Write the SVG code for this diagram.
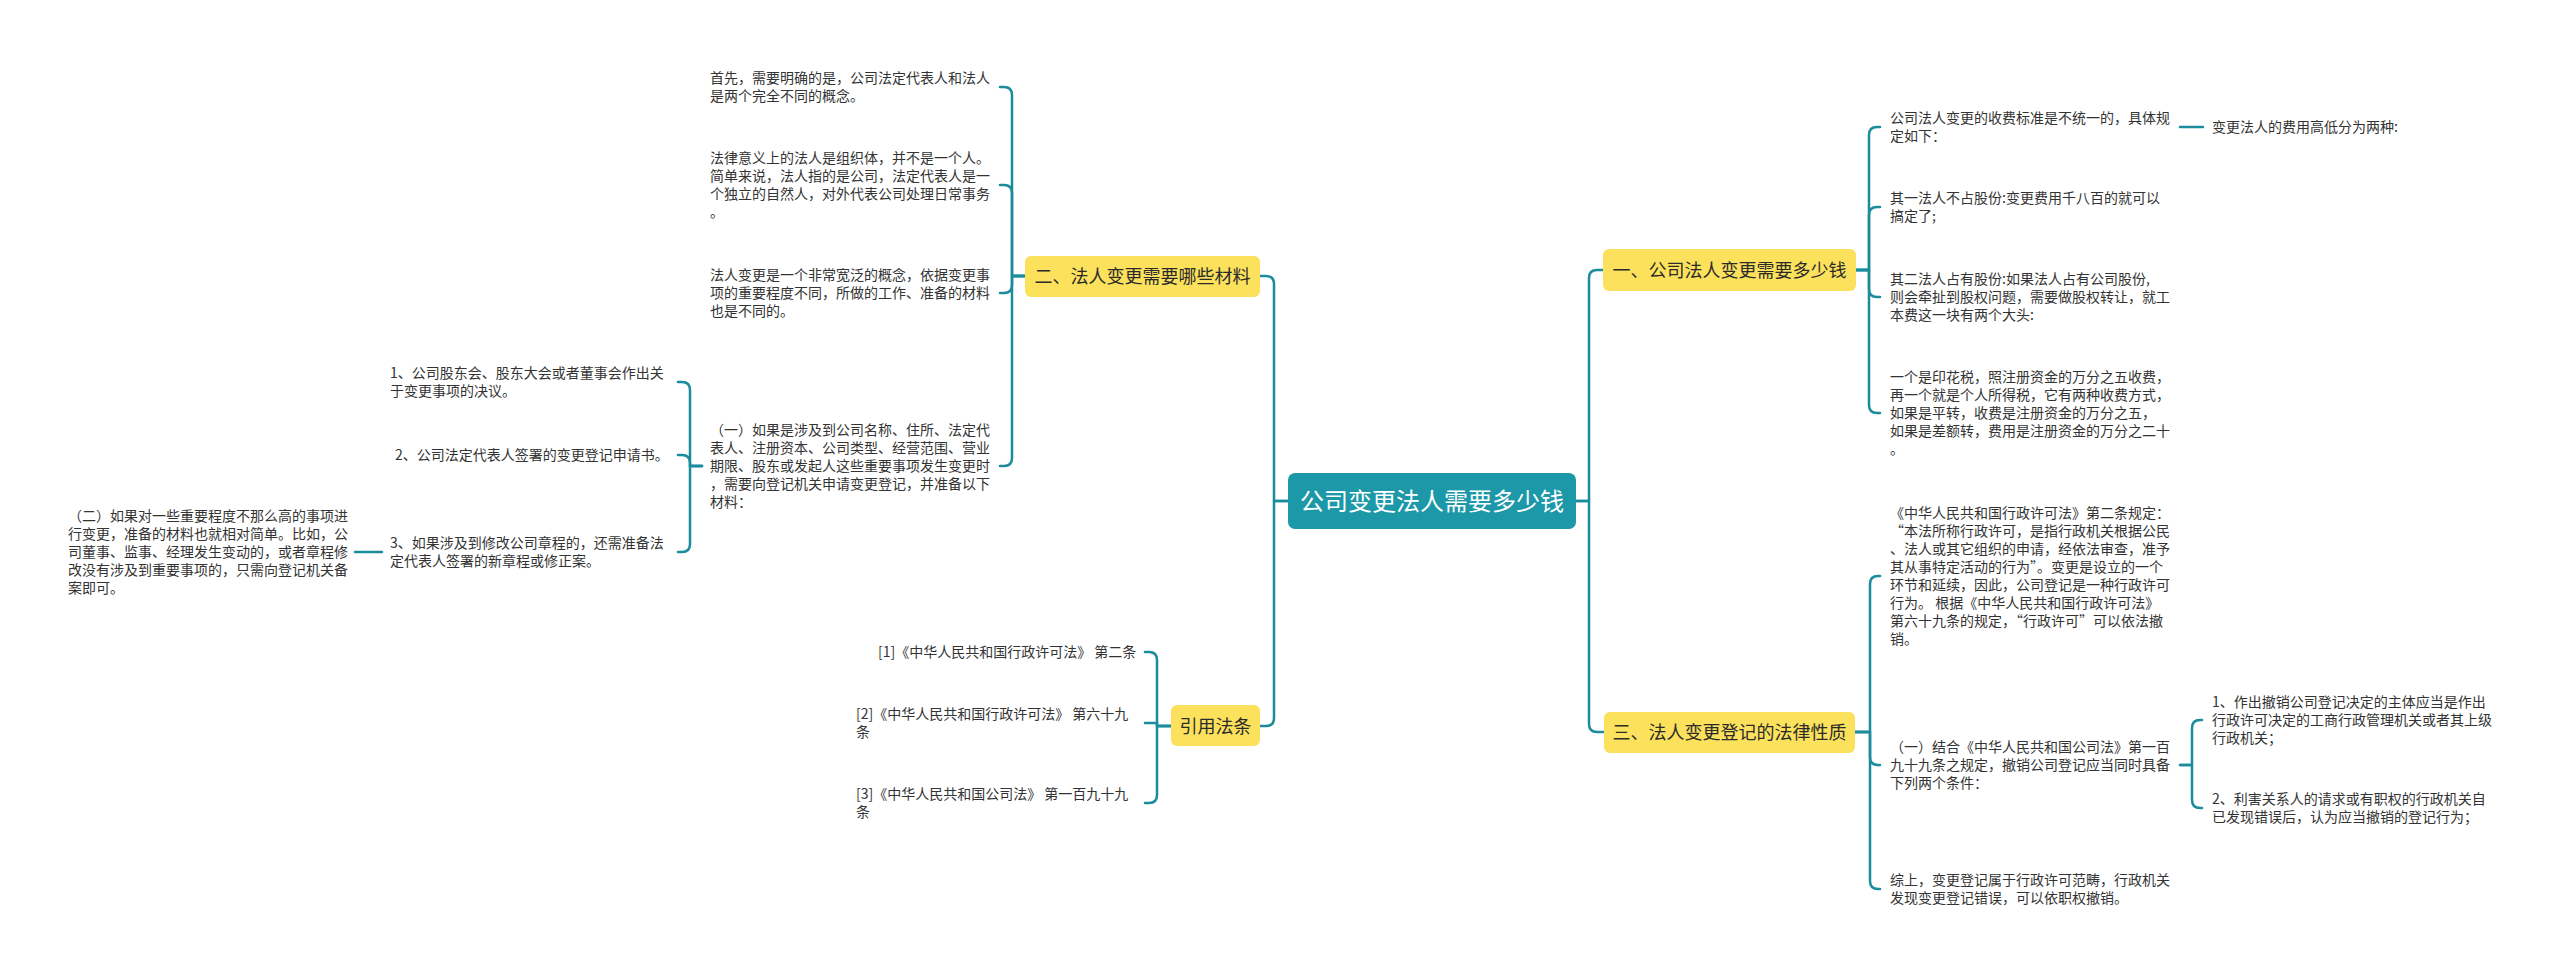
<svg xmlns="http://www.w3.org/2000/svg" width="2560" height="974" viewBox="0 0 2560 974">
<style>
text{font-family:"Noto Sans CJK SC","Noto Sans",sans-serif;fill:#333333;font-size:14px}
.br{font-size:18px;text-anchor:middle;fill:#2b2b2b}
.rt{font-size:24px;text-anchor:middle;fill:#ffffff}
.yb{fill:#fce15c}
.c{fill:none;stroke:#1a8c9c;stroke-width:2.5;stroke-linecap:round;stroke-linejoin:round}
</style>
<rect width="2560" height="974" fill="#ffffff"/>
<g id="connectors">
<path class="c" d="M1576,501 H1589 V278 Q1589,270 1597,270 H1603"/>
<path class="c" d="M1576,501 H1589 V724 Q1589,732 1597,732 H1604"/>
<path class="c" d="M1856,270 H1869 V135 Q1869,127 1877,127 H1880"/>
<path class="c" d="M1856,270 H1869 V215 Q1869,207 1877,207 H1880"/>
<path class="c" d="M1856,270 H1869 V289 Q1869,297 1877,297 H1880"/>
<path class="c" d="M1856,270 H1869 V405 Q1869,413 1877,413 H1880"/>
<path class="c" d="M2180,127 H2203"/>
<path class="c" d="M1855,732 H1870 V584 Q1870,576 1878,576 H1880"/>
<path class="c" d="M1855,732 H1870 V757 Q1870,765 1878,765 H1880"/>
<path class="c" d="M1855,732 H1870 V881 Q1870,889 1878,889 H1880"/>
<path class="c" d="M2180,765 H2192 V728 Q2192,720 2200,720 H2202"/>
<path class="c" d="M2180,765 H2192 V800 Q2192,808 2200,808 H2202"/>
<path class="c" d="M1288,501 H1274 V284 Q1274,276 1266,276 H1260"/>
<path class="c" d="M1288,501 H1274 V718 Q1274,726 1266,726 H1260"/>
<path class="c" d="M1025,276 H1012 V95 Q1012,87 1004,87 H1000"/>
<path class="c" d="M1025,276 H1012 V193 Q1012,185 1004,185 H1000"/>
<path class="c" d="M1025,276 H1012 V285 Q1012,293 1004,293 H1000"/>
<path class="c" d="M1025,276 H1012 V458 Q1012,466 1004,466 H1000"/>
<path class="c" d="M702,466 H690 V390 Q690,382 682,382 H678"/>
<path class="c" d="M702,466 H690 V463 Q690,455 682,455 H678"/>
<path class="c" d="M702,466 H690 V544 Q690,552 682,552 H678"/>
<path class="c" d="M382,552 H355"/>
<path class="c" d="M1171,726 H1157 V660 Q1157,652 1149,652 H1145"/>
<path class="c" d="M1171,726 H1157 V723 H1145"/>
<path class="c" d="M1171,726 H1157 V795 Q1157,803 1149,803 H1145"/>
</g>
<g id="root">
<rect x="1288" y="473" width="288" height="56" rx="7" fill="#1c98a8"/>
<text class="rt" x="1432" y="510">公司变更法人需要多少钱</text>
</g>
<g id="b1">
<rect class="yb" x="1603" y="249" width="253" height="42" rx="6"/>
<text class="br" x="1729.5" y="277">一、公司法人变更需要多少钱</text>
</g>
<g id="b2">
<rect class="yb" x="1025" y="256" width="235" height="41" rx="6"/>
<text class="br" x="1142.5" y="283">二、法人变更需要哪些材料</text>
</g>
<g id="b3">
<rect class="yb" x="1604" y="712" width="251" height="41" rx="6"/>
<text class="br" x="1729.5" y="739">三、法人变更登记的法律性质</text>
</g>
<g id="b4">
<rect class="yb" x="1171" y="705" width="89" height="41" rx="6"/>
<text class="br" x="1215.5" y="733">引用法条</text>
</g>
<g id="n1a">
<text x="1890" y="123">公司法人变更的收费标准是不统一的，具体规</text>
<text x="1890" y="141">定如下：</text>
</g>
<g id="n1a1">
<text x="2212" y="132">变更法人的费用高低分为两种:</text>
</g>
<g id="n1b">
<text x="1890" y="203">其一法人不占股份:变更费用千八百的就可以</text>
<text x="1890" y="221">搞定了;</text>
</g>
<g id="n1c">
<text x="1890" y="284">其二法人占有股份:如果法人占有公司股份,</text>
<text x="1890" y="302">则会牵扯到股权问题，需要做股权转让，就工</text>
<text x="1890" y="320">本费这一块有两个大头:</text>
</g>
<g id="n1d">
<text x="1890" y="382">一个是印花税，照注册资金的万分之五收费，</text>
<text x="1890" y="400">再一个就是个人所得税，它有两种收费方式，</text>
<text x="1890" y="418">如果是平转，收费是注册资金的万分之五，</text>
<text x="1890" y="436">如果是差额转，费用是注册资金的万分之二十</text>
<text x="1890" y="454">。</text>
</g>
<g id="n3a">
<text x="1890" y="518">《中华人民共和国行政许可法》第二条规定：</text>
<text x="1890" y="536">“本法所称行政许可，是指行政机关根据公民</text>
<text x="1890" y="554">、法人或其它组织的申请，经依法审查，准予</text>
<text x="1890" y="572">其从事特定活动的行为”。变更是设立的一个</text>
<text x="1890" y="590">环节和延续，因此，公司登记是一种行政许可</text>
<text x="1890" y="608">行为。 根据《中华人民共和国行政许可法》</text>
<text x="1890" y="626">第六十九条的规定，“行政许可”可以依法撤</text>
<text x="1890" y="644">销。</text>
</g>
<g id="n3b">
<text x="1890" y="752">（一）结合《中华人民共和国公司法》第一百</text>
<text x="1890" y="770">九十九条之规定，撤销公司登记应当同时具备</text>
<text x="1890" y="788">下列两个条件：</text>
</g>
<g id="n3b1">
<text x="2212" y="707">1、作出撤销公司登记决定的主体应当是作出</text>
<text x="2212" y="725">行政许可决定的工商行政管理机关或者其上级</text>
<text x="2212" y="743">行政机关；</text>
</g>
<g id="n3b2">
<text x="2212" y="804">2、利害关系人的请求或有职权的行政机关自</text>
<text x="2212" y="822">已发现错误后，认为应当撤销的登记行为；</text>
</g>
<g id="n3c">
<text x="1890" y="885">综上，变更登记属于行政许可范畴，行政机关</text>
<text x="1890" y="903">发现变更登记错误，可以依职权撤销。</text>
</g>
<g id="n2a">
<text x="710" y="83">首先，需要明确的是，公司法定代表人和法人</text>
<text x="710" y="101">是两个完全不同的概念。</text>
</g>
<g id="n2b">
<text x="710" y="163">法律意义上的法人是组织体，并不是一个人。</text>
<text x="710" y="181">简单来说，法人指的是公司，法定代表人是一</text>
<text x="710" y="199">个独立的自然人，对外代表公司处理日常事务</text>
<text x="710" y="217">。</text>
</g>
<g id="n2c">
<text x="710" y="280">法人变更是一个非常宽泛的概念，依据变更事</text>
<text x="710" y="298">项的重要程度不同，所做的工作、准备的材料</text>
<text x="710" y="316">也是不同的。</text>
</g>
<g id="n2d">
<text x="710" y="435">（一）如果是涉及到公司名称、住所、法定代</text>
<text x="710" y="453">表人、注册资本、公司类型、经营范围、营业</text>
<text x="710" y="471">期限、股东或发起人这些重要事项发生变更时</text>
<text x="710" y="489">，需要向登记机关申请变更登记，并准备以下</text>
<text x="710" y="507">材料：</text>
</g>
<g id="n2d1">
<text x="390" y="378">1、公司股东会、股东大会或者董事会作出关</text>
<text x="390" y="396">于变更事项的决议。</text>
</g>
<g id="n2d2">
<text x="395" y="460">2、公司法定代表人签署的变更登记申请书。</text>
</g>
<g id="n2d3">
<text x="390" y="548">3、如果涉及到修改公司章程的，还需准备法</text>
<text x="390" y="566">定代表人签署的新章程或修正案。</text>
</g>
<g id="n2d3a">
<text x="68" y="521">（二）如果对一些重要程度不那么高的事项进</text>
<text x="68" y="539">行变更，准备的材料也就相对简单。比如，公</text>
<text x="68" y="557">司董事、监事、经理发生变动的，或者章程修</text>
<text x="68" y="575">改没有涉及到重要事项的，只需向登记机关备</text>
<text x="68" y="593">案即可。</text>
</g>
<g id="n4a">
<text x="878" y="657">[1]《中华人民共和国行政许可法》 第二条</text>
</g>
<g id="n4b">
<text x="856" y="719">[2]《中华人民共和国行政许可法》 第六十九</text>
<text x="856" y="737">条</text>
</g>
<g id="n4c">
<text x="856" y="799">[3]《中华人民共和国公司法》 第一百九十九</text>
<text x="856" y="817">条</text>
</g>
</svg>
